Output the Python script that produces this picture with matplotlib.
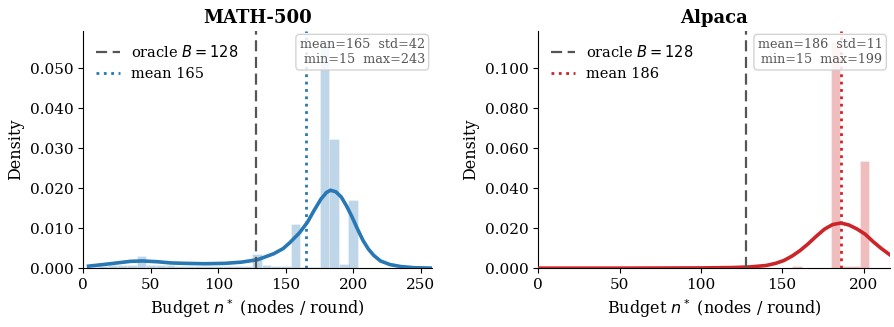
import numpy as np
import matplotlib as mpl
mpl.use('Agg')
import matplotlib.pyplot as plt
from matplotlib.ticker import FormatStrFormatter

plt.rcParams['font.family'] = 'DejaVu Serif'
plt.rc('axes', labelsize=11.5)
plt.rc('xtick', labelsize=11)
plt.rc('ytick', labelsize=11)
plt.rc('legend', fontsize=10.5)

ORACLE_B = 128

# ---- MATH-500 ----
math_centers = [7.6, 14.7, 21.8, 28.9, 36.1, 43.2, 50.3, 57.4, 64.6, 71.7,
                78.8, 85.9, 93.1, 100.2, 107.3, 114.4, 121.6, 128.7, 135.8, 142.9,
                150.1, 157.2, 164.3, 171.4, 178.6, 185.7, 192.8, 199.9]
math_density = [0.0004, 0.0006, 0.0007, 0.0008, 0.0009, 0.0031, 0.0009, 0.0008, 0.0007, 0.0006,
                0.0006, 0.0005, 0.0005, 0.0005, 0.0005, 0.0005, 0.0006, 0.0036, 0.0007, 0.0006,
                0.0006, 0.0110, 0.0003, 0.0003, 0.0565, 0.0323, 0.0010, 0.0171]
math_kde_x = [4, 15, 25, 35, 44, 55, 65, 75, 90, 105, 117, 129, 141, 148, 153, 160, 166,
              171, 176, 180, 183, 187, 191, 195, 199, 203, 207, 211, 215, 220, 227, 235, 245, 258]
math_kde_y = [0.0005, 0.0009, 0.0013, 0.0017, 0.0018, 0.0016, 0.0013, 0.0012, 0.0011, 0.0012,
              0.0015, 0.0021, 0.0036, 0.0049, 0.0064, 0.0088, 0.0115, 0.0145, 0.0173, 0.0189,
              0.0195, 0.0191, 0.0178, 0.0155, 0.0128, 0.0098, 0.0070, 0.0048, 0.0032, 0.0018,
              0.0009, 0.0004, 0.0001, 0.0000]
math_stats = dict(mean=165, std=42, min=15, max=243)

# ---- Alpaca ----
alpaca_centers = [159.2, 182.8, 188.7, 194.6, 200.5]
alpaca_density = [0.0013, 0.1130, 0.0013, 0.0010, 0.0535]
alpaca_kde_x = [0, 50, 100, 120, 130, 140, 146, 151, 156, 161, 166, 171, 176, 181, 186,
                191, 196, 201, 206, 211, 216]
alpaca_kde_y = [0.0000, 0.0000, 0.0001, 0.0003, 0.0006, 0.0013, 0.0024, 0.0038, 0.0060, 0.0088,
                0.0122, 0.0160, 0.0195, 0.0218, 0.0226, 0.0216, 0.0196, 0.0170, 0.0132, 0.0098,
                0.0068]
alpaca_stats = dict(mean=186, std=11, min=15, max=199)

panels = [
    ('MATH-500', math_centers, math_density, 7.125, math_kde_x, math_kde_y, math_stats, '#2878b5', (0, 258)),
    ('Alpaca', alpaca_centers, alpaca_density, 5.9, alpaca_kde_x, alpaca_kde_y, alpaca_stats, '#cc2529', (0, 216)),
]

fig = plt.figure(figsize=(8.94, 3.27), dpi=100)
ax_pos = [[0.093, 0.180, 0.390, 0.725], [0.602, 0.180, 0.393, 0.725]]

for i, (title, centers, dens, width, kx, ky, st, col, xlim) in enumerate(panels):
    ax = fig.add_axes(ax_pos[i])
    ax.bar(centers, dens, width=width, color=col, alpha=0.3, edgecolor='white', linewidth=0.8, zorder=1)
    ax.plot(kx, ky, '-', color=col, lw=2.6, zorder=3)
    ax.axvline(ORACLE_B, color='#555555', ls=(0, (5, 2.5)), lw=1.6, label=r'oracle $B=128$', zorder=4)
    ax.axvline(st['mean'], color=col, ls=':', lw=2, label='mean %d' % st['mean'], zorder=4)

    ax.set_xlim(*xlim)
    ax.set_ylim(0, max(dens) * 1.05)
    ax.yaxis.set_major_formatter(FormatStrFormatter('%.3f'))
    ax.xaxis.set_major_locator(mpl.ticker.MultipleLocator(50))
    ax.spines['top'].set_visible(False)
    ax.spines['right'].set_visible(False)

    ax.set_title(title, fontweight='bold', fontsize=13)
    ax.set_xlabel(r'Budget $n^*$ (nodes / round)')
    ax.set_ylabel('Density')
    ax.legend(loc='upper left', frameon=False, handlelength=1.6)

    txt = 'mean=%d  std=%d\nmin=%d  max=%d' % (st['mean'], st['std'], st['min'], st['max'])
    ax.text(0.98, 0.97, txt, transform=ax.transAxes, ha='right', va='top', multialignment='right',
            fontsize=9.2, color='#555555', zorder=5,
            bbox=dict(boxstyle='round,pad=0.3', fc='white', ec='#cccccc', alpha=0.85))

fig.savefig('out.png', dpi=100)
